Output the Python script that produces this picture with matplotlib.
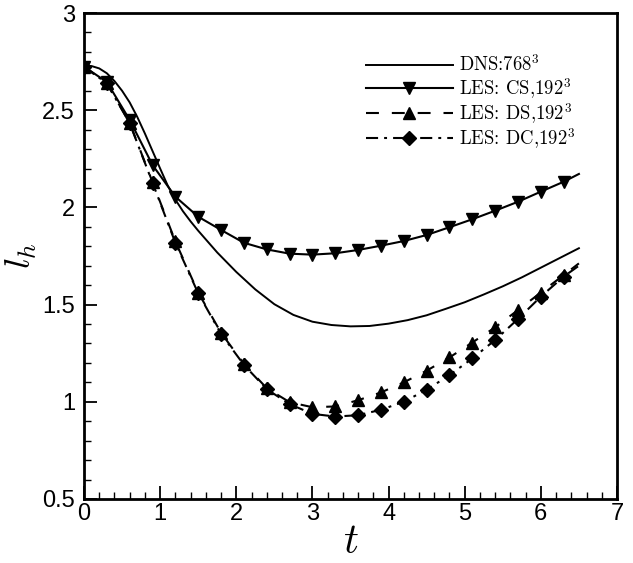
import numpy as np
import matplotlib
matplotlib.use("Agg")
import matplotlib.pyplot as plt

# l_h vs t, DNS and three LES models (markers every 0.3, line ends at 6.5)
t_dns = [0, 0.1, 0.2, 0.3, 0.4, 0.5, 0.6, 0.7, 0.8, 0.9, 1.0, 1.1, 1.2, 1.3, 1.4, 1.5,
         1.75, 2.0, 2.25, 2.5, 2.75, 3.0, 3.25, 3.5, 3.75, 4.0, 4.25, 4.5, 4.75, 5.0,
         5.25, 5.5, 5.75, 6.0, 6.25, 6.5]
lh_dns = [2.73, 2.727, 2.715, 2.69, 2.65, 2.60, 2.54, 2.465, 2.38, 2.29, 2.20, 2.112, 2.04,
          1.98, 1.928, 1.88, 1.768, 1.668, 1.578, 1.502, 1.447, 1.412, 1.395, 1.388, 1.39,
          1.402, 1.42, 1.445, 1.478, 1.512, 1.552, 1.594, 1.64, 1.69, 1.74, 1.79]

t_les = [0, 0.3, 0.6, 0.9, 1.2, 1.5, 1.8, 2.1, 2.4, 2.7, 3.0, 3.3, 3.6, 3.9,
         4.2, 4.5, 4.8, 5.1, 5.4, 5.7, 6.0, 6.3, 6.5]
lh_cs = [2.724, 2.645, 2.45, 2.218, 2.055, 1.952, 1.884, 1.818, 1.784, 1.762, 1.757, 1.764,
         1.781, 1.803, 1.827, 1.858, 1.898, 1.939, 1.983, 2.029, 2.081, 2.132, 2.172]
lh_ds = [2.724, 2.638, 2.435, 2.13, 1.825, 1.562, 1.355, 1.195, 1.07, 0.998, 0.972, 0.976,
         1.008, 1.048, 1.10, 1.16, 1.228, 1.305, 1.383, 1.472, 1.562, 1.652, 1.712]
lh_dc = [2.724, 2.638, 2.433, 2.127, 1.818, 1.558, 1.349, 1.19, 1.065, 0.988, 0.938, 0.924,
         0.931, 0.959, 1.0, 1.062, 1.137, 1.223, 1.318, 1.426, 1.541, 1.644, 1.70]

labels = ["DNS:768$^3$", "LES: CS,192$^3$", "LES: DS,192$^3$", "LES: DC,192$^3$"]

plt.rcParams["mathtext.fontset"] = "cm"

fig = plt.figure(figsize=(6.33, 5.63), dpi=100)
ax = fig.add_axes([0.1327, 0.1137, 0.842, 0.8632])

lw = 1.5
mk = slice(0, -1)
ax.plot(t_dns, lh_dns, color="black", lw=1.4, label=labels[0])
ax.plot(t_les, lh_cs, color="black", lw=lw, marker="v", ms=9, markevery=mk, label=labels[1])
ax.plot(t_les, lh_ds, color="black", lw=lw, ls=(0, (6.2, 6.2)), marker="^", ms=9,
        markevery=mk, label=labels[2])
ax.plot(t_les, lh_dc, color="black", lw=lw, ls=(0, (5.8, 2.9, 1.4, 2.9)), marker="D", ms=7.5,
        markevery=mk, label=labels[3])

ax.set_xlim(0, 7)
ax.set_ylim(0.5, 3)
ax.set_xticks(np.arange(0, 8, 1))
ax.set_xticks(np.arange(0, 7.01, 0.2), minor=True)
ax.set_yticks([0.5, 1, 1.5, 2, 2.5, 3])
ax.set_yticks(np.arange(0.5, 3.01, 0.1), minor=True)
ax.set_xticklabels(["0", "1", "2", "3", "4", "5", "6", "7"])
ax.set_yticklabels(["0.5", "1", "1.5", "2", "2.5", "3"])

for lab in ax.get_xticklabels() + ax.get_yticklabels():
    lab.set_fontfamily("Liberation Sans")
    lab.set_fontsize(17)

ax.tick_params(which="major", direction="in", length=9.4, width=1.3)
ax.tick_params(which="minor", direction="in", length=5, width=1.0)
ax.tick_params(axis="x", which="major", pad=3)
ax.tick_params(axis="y", which="major", pad=6.5)
ax.tick_params(top=False, right=False, which="both")
for s in ax.spines.values():
    s.set_linewidth(2)

ax.set_xlabel(r"$t$", fontsize=30, labelpad=-4)
ax.set_ylabel(r"$l_h$", fontsize=26, labelpad=2)

leg = ax.legend(loc="upper left", bbox_to_anchor=(0.512, 0.934), frameon=False,
                prop={"family": "cmr10", "size": 13.5},
                borderpad=0, handlelength=4.6, handletextpad=0.35, labelspacing=0.02)

fig.savefig("out.png", dpi=100)
